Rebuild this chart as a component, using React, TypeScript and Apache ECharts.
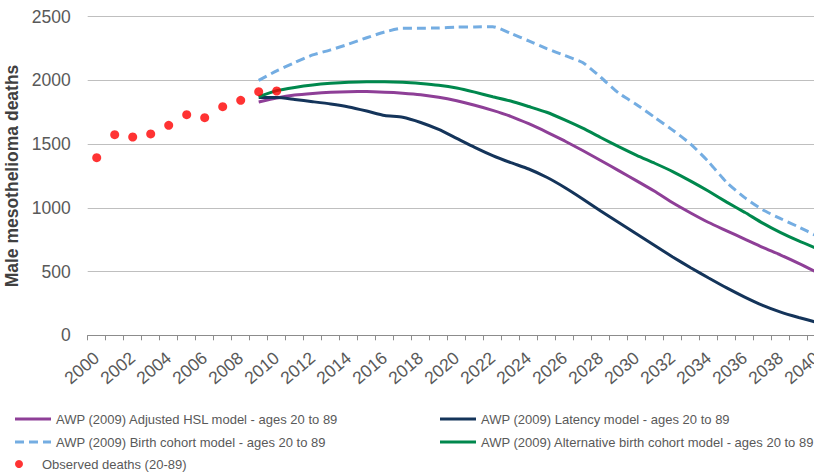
import React, { useEffect, useRef } from "react";
import * as echarts from "echarts";

const years: string[] = [];
for (let y = 2000; y <= 2040; y++) years.push(String(y));

const observed = [1394, 1574, 1556, 1580, 1648, 1731, 1708, 1794, 1844, 1912, 1917];

// model projections 2009..2040
const hsl = [1830, 1862, 1885, 1898, 1907, 1912, 1913, 1908, 1900, 1888, 1868, 1840, 1805, 1765, 1718, 1660, 1595, 1525, 1450, 1372, 1292, 1212, 1130, 1040, 960, 885, 820, 755, 690, 630, 565, 495];
const latency = [1865, 1865, 1850, 1833, 1815, 1792, 1760, 1725, 1711, 1670, 1615, 1545, 1475, 1410, 1355, 1305, 1240, 1160, 1070, 975, 885, 795, 705, 615, 530, 450, 372, 300, 235, 182, 140, 102];
const birth = [2000, 2075, 2140, 2200, 2240, 2285, 2335, 2380, 2410, 2410, 2412, 2418, 2420, 2422, 2370, 2310, 2250, 2195, 2140, 2025, 1900, 1810, 1710, 1610, 1500, 1360, 1200, 1080, 985, 915, 850, 780];
const altBirth = [1872, 1920, 1945, 1964, 1977, 1986, 1990, 1990, 1986, 1976, 1962, 1940, 1908, 1872, 1838, 1795, 1750, 1690, 1625, 1552, 1480, 1412, 1350, 1285, 1210, 1130, 1045, 965, 880, 805, 740, 682];

const names = {
  hsl: "AWP (2009) Adjusted HSL model - ages 20 to 89",
  latency: "AWP (2009) Latency model - ages 20 to 89",
  birth: "AWP (2009) Birth cohort model - ages 20 to 89",
  alt: "AWP (2009) Alternative birth cohort model - ages 20 to 89",
  obs: "Observed deaths (20-89)",
};

const modelStart = 2009;
function pad(vals: number[], start: number) {
  const out: (number | string)[] = [];
  for (let y = 2000; y <= 2040; y++) {
    const i = y - start;
    out.push(i >= 0 && i < vals.length ? vals[i] : "-");
  }
  return out;
}

const dashIcon = "path://M0,0h9v3h-9z M14,0h9v3h-9z M28,0h8v3h-8z";

export default function App() {
  const ref = useRef<HTMLDivElement>(null);
  useEffect(() => {
    if (!ref.current) return;
    const chart = echarts.init(ref.current, undefined, { renderer: "svg" });
    const font = "Liberation Sans, Arial, sans-serif";
    const legendText = { color: "#595959", fontSize: 13, fontFamily: font, lineHeight: 16 };
    const lineSeries = (name: string, vals: number[], color: string, type: any = "solid") => ({
      name,
      type: "line",
      data: pad(vals, modelStart),
      showSymbol: false,
      symbol: "none",
      smooth: 0.2,
      lineStyle: { color, width: 3, type },
      itemStyle: { color },
      z: 2,
    });
    chart.setOption({
      animation: false,
      grid: { left: 87.7, top: 16.7, width: 738, height: 318.6, outerBoundsMode: "none", containLabel: false },
      xAxis: {
        type: "category",
        data: years,
        boundaryGap: true,
        axisLine: { lineStyle: { color: "#8c8c8c", width: 1 } },
        axisTick: { show: true, interval: 0, length: 5, lineStyle: { color: "#8c8c8c" } },
        axisLabel: {
          interval: 1,
          rotate: 40,
          margin: 20,
          color: "#595959",
          fontSize: 17.5,
          fontFamily: font,
        },
      },
      yAxis: {
        type: "value",
        min: 0,
        max: 2500,
        interval: 500,
        axisLine: { show: false },
        axisTick: { show: false },
        splitLine: { lineStyle: { color: "#bfbfbf", width: 1 } },
        axisLabel: {
          color: "#595959",
          fontSize: 17.5,
          fontFamily: font,
          margin: 17,
          formatter: (v: number) => String(v),
        },
        name: "Male mesothelioma deaths",
        nameLocation: "middle",
        nameGap: 64,
        nameTextStyle: { color: "#404040", fontSize: 17.5, fontWeight: "bold", fontFamily: font },
      },
      legend: [
        {
          left: 10,
          top: 406,
          orient: "vertical",
          itemWidth: 36,
          itemHeight: 3,
          itemGap: 7,
          textStyle: legendText,
          data: [
            { name: names.hsl, icon: "rect" },
            { name: names.birth, icon: dashIcon },
          ],
        },
        {
          left: 10,
          top: 451,
          orient: "vertical",
          itemWidth: 36,
          itemHeight: 8,
          textStyle: legendText,
          data: [{ name: names.obs, icon: "circle" }],
        },
        {
          left: 435,
          top: 406,
          orient: "vertical",
          itemWidth: 36,
          itemHeight: 3,
          itemGap: 7,
          textStyle: legendText,
          data: [
            { name: names.latency, icon: "rect" },
            { name: names.alt, icon: "rect" },
          ],
        },
      ],
      series: [
        lineSeries(names.hsl, hsl, "#8e3f97"),
        lineSeries(names.latency, latency, "#14345a"),
        lineSeries(names.birth, birth, "#74ade2", [9, 5]),
        lineSeries(names.alt, altBirth, "#00884d"),
        {
          name: names.obs,
          type: "scatter",
          data: pad(observed, 2000),
          symbol: "circle",
          symbolSize: 9,
          itemStyle: { color: "#ff0000" },
          z: 3,
        },
      ],
    });
    return () => chart.dispose();
  }, []);
  return (
    <div style={{ position: "fixed", left: 0, top: 0, width: 814, height: 474, overflow: "hidden", background: "#fff" }}>
      <div ref={ref} style={{ width: 814, height: 474 }} />
    </div>
  );
}
